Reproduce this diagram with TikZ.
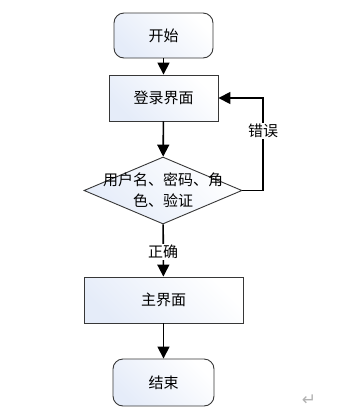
\documentclass[tikz,border=0pt]{standalone}
\usepackage{fontspec}
\setmainfont{Noto Sans CJK SC}
\newfontfamily\symfont{DejaVu Sans}
\usetikzlibrary{shapes.geometric,arrows.meta}
\definecolor{boxblue}{RGB}{229,236,249}
\definecolor{edgegray}{RGB}{55,55,55}
\tikzset{
  base/.style={draw=edgegray, line width=0.9pt, left color=boxblue, right color=white, shading angle=135, inner sep=0pt, font=\fontsize{15pt}{18pt}\selectfont},
  termbox/.style={base, rounded corners=10pt, minimum width=99pt, minimum height=45pt},
  procbox/.style={base, minimum width=109pt, minimum height=46pt},
  decbox/.style={base, diamond, minimum width=158pt, minimum height=67pt},
  flow/.style={line width=1.6pt, -{Triangle[length=12pt,width=12pt]}},
  lbl/.style={fill=white, inner sep=1pt, font=\fontsize{15pt}{18pt}\selectfont}
}
\begin{document}
\begin{tikzpicture}[x=1pt,y=-1pt]
\useasboundingbox (0,0) rectangle (357,416);
\node[termbox] (start) at (163.5,35.5) {开始};
\node[procbox] (login) at (163.5,98) {登录界面};
\node[decbox] (dec) at (163,190.5) {};
\node[align=center, inner sep=0pt, font=\fontsize{15pt}{21pt}\selectfont] (dectext) at (163,190.5) {用户名、密码、角\\色、验证};
\node[procbox, minimum width=159pt] (main) at (163.5,300) {主界面};
\node[termbox, minimum width=101pt, minimum height=47pt] (end) at (163.5,382.5) {结束};
\coordinate (fb) at (263,190.5);
\draw[flow] (start) -- (login);
\draw[flow] (login) -- (dec);
\draw[flow] (dec.east) -- (fb) |- (login.east);
\node[lbl] (err) at (263,131) {错误};
\draw[flow] (dec) -- (main);
\node[lbl] (ok) at (163,252) {正确};
\draw[flow] (main) -- (end);
\node[text=gray!60, font=\symfont\fontsize{17pt}{19pt}\selectfont] (pm) at (309,400) {↵};
\end{tikzpicture}
\end{document}
